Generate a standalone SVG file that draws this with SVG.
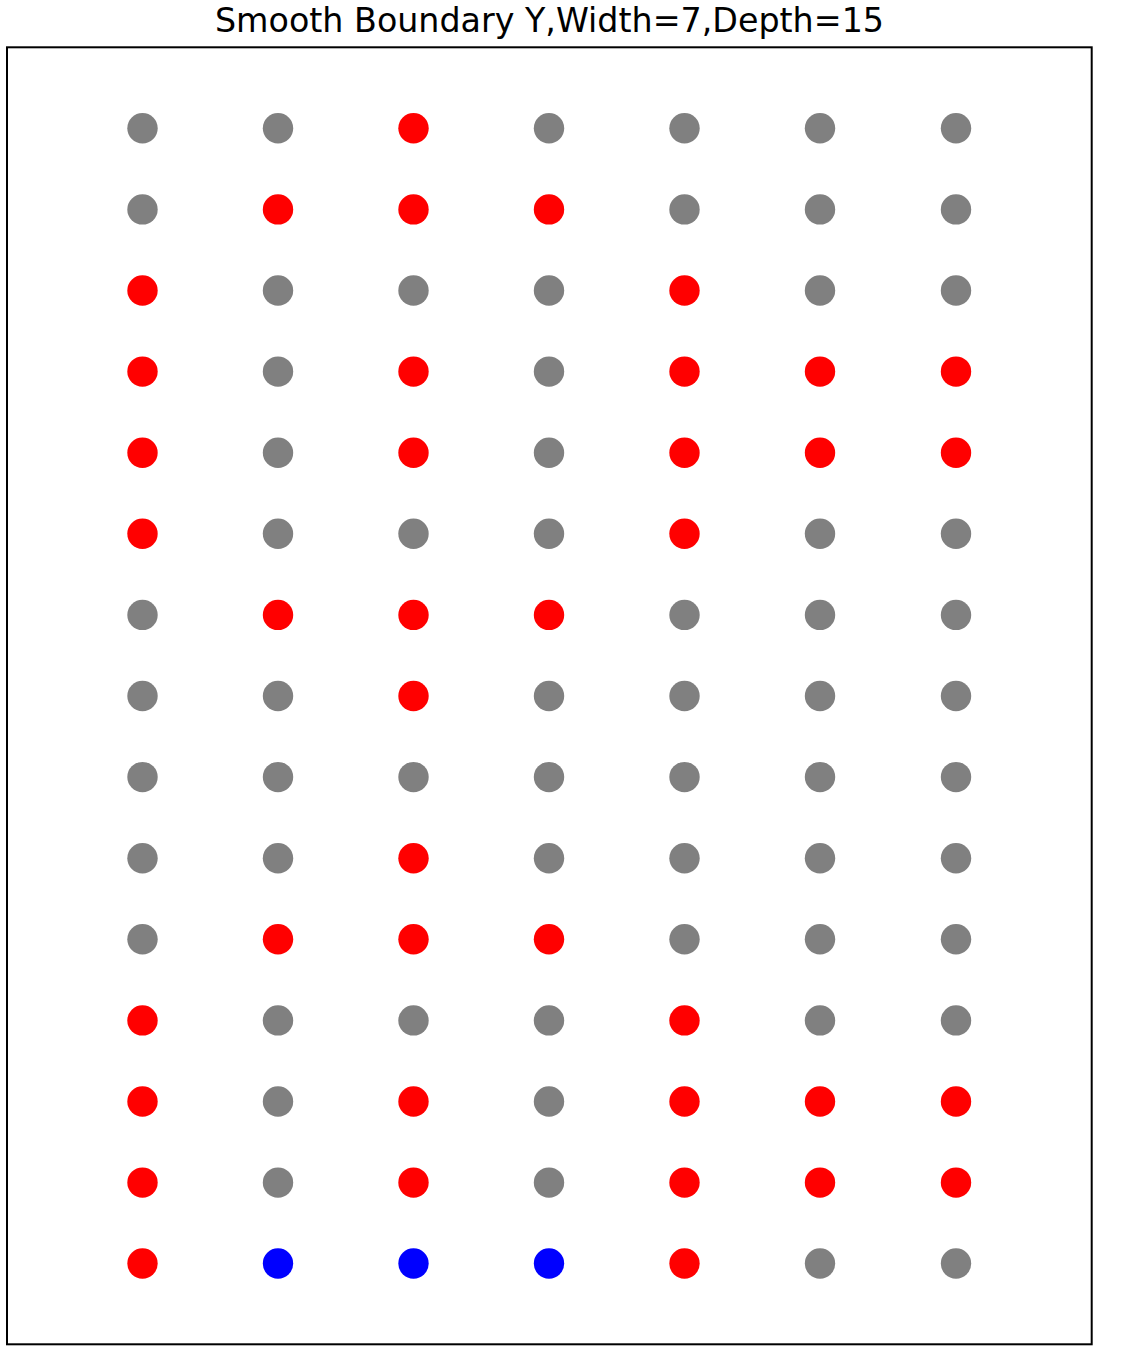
<svg xmlns="http://www.w3.org/2000/svg" width="1132" height="1365" viewBox="0 0 1132 1365">
<style>
.g{fill:#808080}.r{fill:#ff0000}.b{fill:#0000ff}
.t{font-family:"DejaVu Sans",sans-serif;font-size:33.3px;fill:#000}
</style>
<rect width="1132" height="1365" fill="#fff"/>
<text class="t" x="549.5" y="32" text-anchor="middle">Smooth Boundary Y,Width=7,Depth=15</text>
<rect id="frame" x="7" y="47.3" width="1084.7" height="1297" fill="none" stroke="#000" stroke-width="2"/>
<g id="points">
<g id="row0"><circle class="g" cx="142.5" cy="128.3" r="15.2"/><circle class="g" cx="278" cy="128.3" r="15.2"/><circle class="r" cx="413.5" cy="128.3" r="15.2"/><circle class="g" cx="549" cy="128.3" r="15.2"/><circle class="g" cx="684.5" cy="128.3" r="15.2"/><circle class="g" cx="820" cy="128.3" r="15.2"/><circle class="g" cx="956" cy="128.3" r="15.2"/></g>
<g id="row1"><circle class="g" cx="142.5" cy="209.4" r="15.2"/><circle class="r" cx="278" cy="209.4" r="15.2"/><circle class="r" cx="413.5" cy="209.4" r="15.2"/><circle class="r" cx="549" cy="209.4" r="15.2"/><circle class="g" cx="684.5" cy="209.4" r="15.2"/><circle class="g" cx="820" cy="209.4" r="15.2"/><circle class="g" cx="956" cy="209.4" r="15.2"/></g>
<g id="row2"><circle class="r" cx="142.5" cy="290.5" r="15.2"/><circle class="g" cx="278" cy="290.5" r="15.2"/><circle class="g" cx="413.5" cy="290.5" r="15.2"/><circle class="g" cx="549" cy="290.5" r="15.2"/><circle class="r" cx="684.5" cy="290.5" r="15.2"/><circle class="g" cx="820" cy="290.5" r="15.2"/><circle class="g" cx="956" cy="290.5" r="15.2"/></g>
<g id="row3"><circle class="r" cx="142.5" cy="371.6" r="15.2"/><circle class="g" cx="278" cy="371.6" r="15.2"/><circle class="r" cx="413.5" cy="371.6" r="15.2"/><circle class="g" cx="549" cy="371.6" r="15.2"/><circle class="r" cx="684.5" cy="371.6" r="15.2"/><circle class="r" cx="820" cy="371.6" r="15.2"/><circle class="r" cx="956" cy="371.6" r="15.2"/></g>
<g id="row4"><circle class="r" cx="142.5" cy="452.7" r="15.2"/><circle class="g" cx="278" cy="452.7" r="15.2"/><circle class="r" cx="413.5" cy="452.7" r="15.2"/><circle class="g" cx="549" cy="452.7" r="15.2"/><circle class="r" cx="684.5" cy="452.7" r="15.2"/><circle class="r" cx="820" cy="452.7" r="15.2"/><circle class="r" cx="956" cy="452.7" r="15.2"/></g>
<g id="row5"><circle class="r" cx="142.5" cy="533.8" r="15.2"/><circle class="g" cx="278" cy="533.8" r="15.2"/><circle class="g" cx="413.5" cy="533.8" r="15.2"/><circle class="g" cx="549" cy="533.8" r="15.2"/><circle class="r" cx="684.5" cy="533.8" r="15.2"/><circle class="g" cx="820" cy="533.8" r="15.2"/><circle class="g" cx="956" cy="533.8" r="15.2"/></g>
<g id="row6"><circle class="g" cx="142.5" cy="614.9" r="15.2"/><circle class="r" cx="278" cy="614.9" r="15.2"/><circle class="r" cx="413.5" cy="614.9" r="15.2"/><circle class="r" cx="549" cy="614.9" r="15.2"/><circle class="g" cx="684.5" cy="614.9" r="15.2"/><circle class="g" cx="820" cy="614.9" r="15.2"/><circle class="g" cx="956" cy="614.9" r="15.2"/></g>
<g id="row7"><circle class="g" cx="142.5" cy="696" r="15.2"/><circle class="g" cx="278" cy="696" r="15.2"/><circle class="r" cx="413.5" cy="696" r="15.2"/><circle class="g" cx="549" cy="696" r="15.2"/><circle class="g" cx="684.5" cy="696" r="15.2"/><circle class="g" cx="820" cy="696" r="15.2"/><circle class="g" cx="956" cy="696" r="15.2"/></g>
<g id="row8"><circle class="g" cx="142.5" cy="777.1" r="15.2"/><circle class="g" cx="278" cy="777.1" r="15.2"/><circle class="g" cx="413.5" cy="777.1" r="15.2"/><circle class="g" cx="549" cy="777.1" r="15.2"/><circle class="g" cx="684.5" cy="777.1" r="15.2"/><circle class="g" cx="820" cy="777.1" r="15.2"/><circle class="g" cx="956" cy="777.1" r="15.2"/></g>
<g id="row9"><circle class="g" cx="142.5" cy="858.2" r="15.2"/><circle class="g" cx="278" cy="858.2" r="15.2"/><circle class="r" cx="413.5" cy="858.2" r="15.2"/><circle class="g" cx="549" cy="858.2" r="15.2"/><circle class="g" cx="684.5" cy="858.2" r="15.2"/><circle class="g" cx="820" cy="858.2" r="15.2"/><circle class="g" cx="956" cy="858.2" r="15.2"/></g>
<g id="row10"><circle class="g" cx="142.5" cy="939.3" r="15.2"/><circle class="r" cx="278" cy="939.3" r="15.2"/><circle class="r" cx="413.5" cy="939.3" r="15.2"/><circle class="r" cx="549" cy="939.3" r="15.2"/><circle class="g" cx="684.5" cy="939.3" r="15.2"/><circle class="g" cx="820" cy="939.3" r="15.2"/><circle class="g" cx="956" cy="939.3" r="15.2"/></g>
<g id="row11"><circle class="r" cx="142.5" cy="1020.4" r="15.2"/><circle class="g" cx="278" cy="1020.4" r="15.2"/><circle class="g" cx="413.5" cy="1020.4" r="15.2"/><circle class="g" cx="549" cy="1020.4" r="15.2"/><circle class="r" cx="684.5" cy="1020.4" r="15.2"/><circle class="g" cx="820" cy="1020.4" r="15.2"/><circle class="g" cx="956" cy="1020.4" r="15.2"/></g>
<g id="row12"><circle class="r" cx="142.5" cy="1101.5" r="15.2"/><circle class="g" cx="278" cy="1101.5" r="15.2"/><circle class="r" cx="413.5" cy="1101.5" r="15.2"/><circle class="g" cx="549" cy="1101.5" r="15.2"/><circle class="r" cx="684.5" cy="1101.5" r="15.2"/><circle class="r" cx="820" cy="1101.5" r="15.2"/><circle class="r" cx="956" cy="1101.5" r="15.2"/></g>
<g id="row13"><circle class="r" cx="142.5" cy="1182.6" r="15.2"/><circle class="g" cx="278" cy="1182.6" r="15.2"/><circle class="r" cx="413.5" cy="1182.6" r="15.2"/><circle class="g" cx="549" cy="1182.6" r="15.2"/><circle class="r" cx="684.5" cy="1182.6" r="15.2"/><circle class="r" cx="820" cy="1182.6" r="15.2"/><circle class="r" cx="956" cy="1182.6" r="15.2"/></g>
<g id="row14"><circle class="r" cx="142.5" cy="1263.5" r="15.2"/><circle class="b" cx="278" cy="1263.5" r="15.2"/><circle class="b" cx="413.5" cy="1263.5" r="15.2"/><circle class="b" cx="549" cy="1263.5" r="15.2"/><circle class="r" cx="684.5" cy="1263.5" r="15.2"/><circle class="g" cx="820" cy="1263.5" r="15.2"/><circle class="g" cx="956" cy="1263.5" r="15.2"/></g>
</g>
<g id="connectors"/>
</svg>
